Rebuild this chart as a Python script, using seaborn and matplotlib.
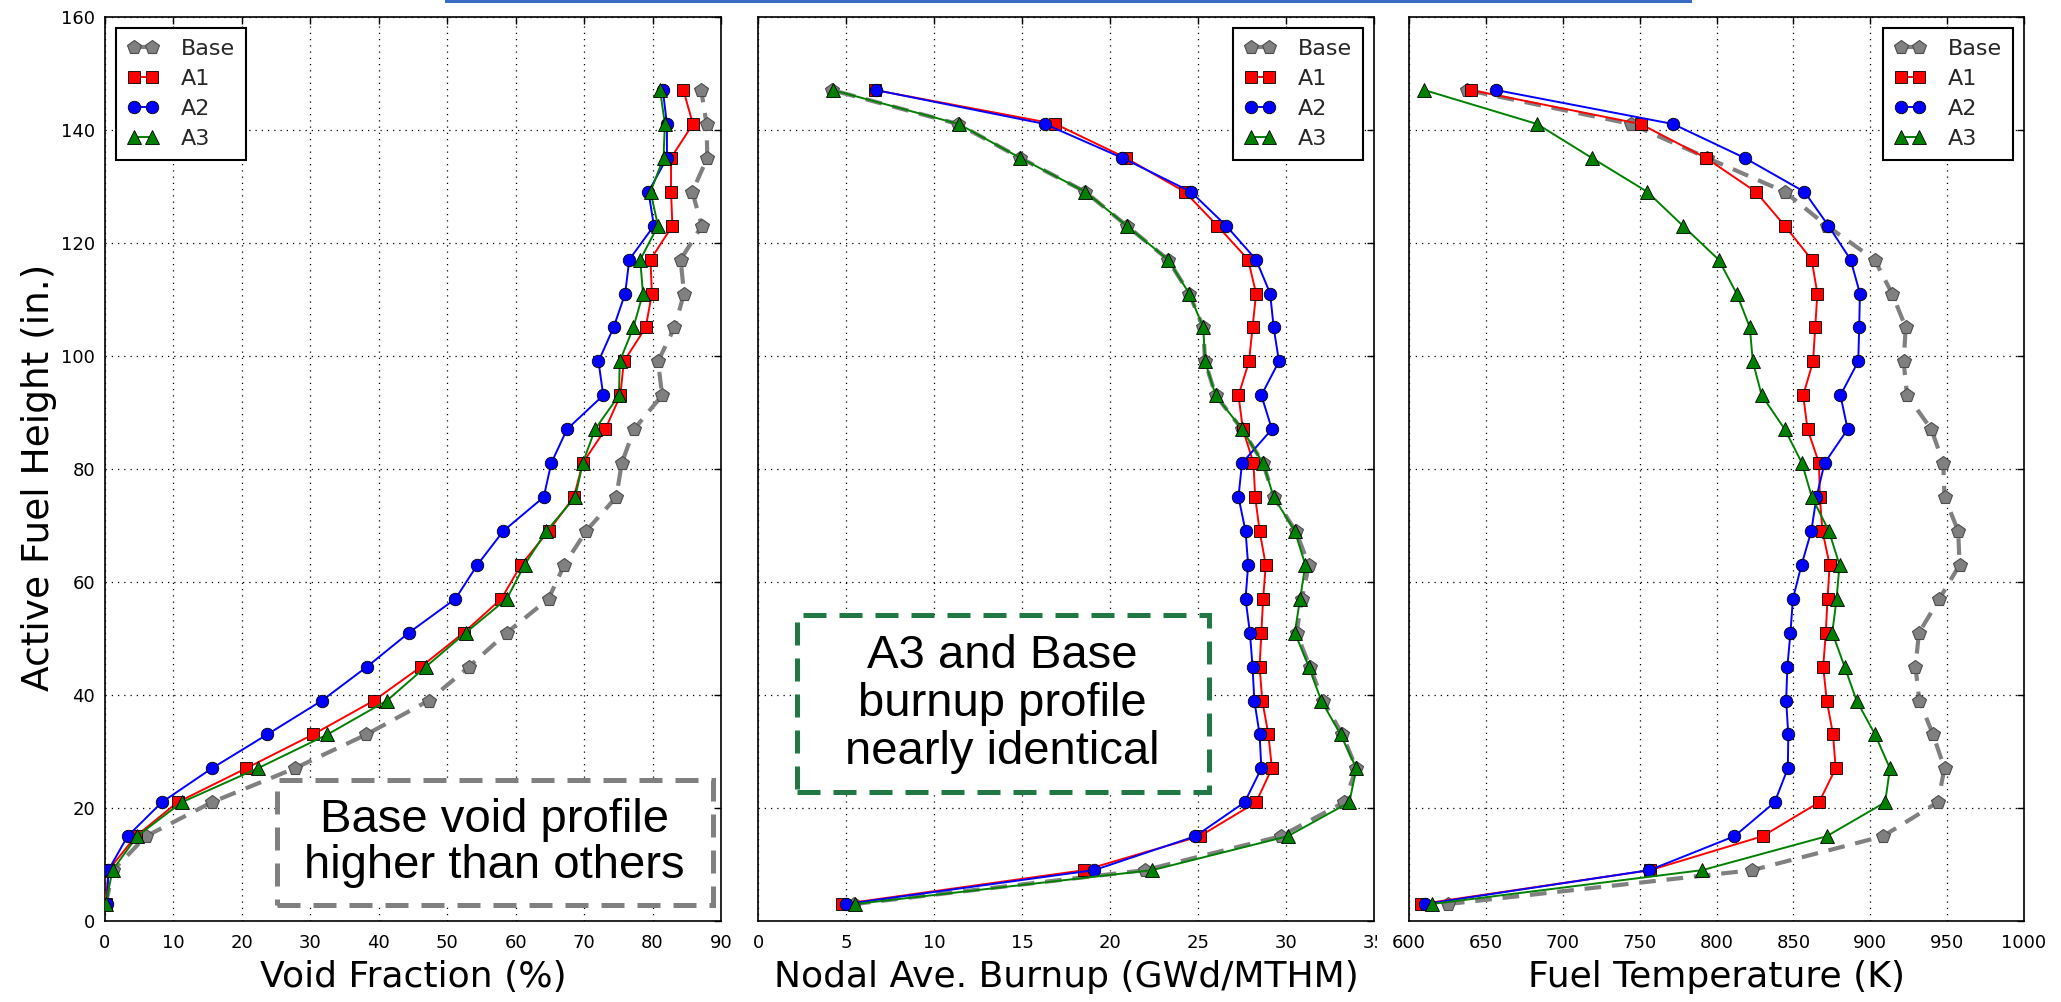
import matplotlib
matplotlib.use("Agg")
import matplotlib.pyplot as plt
import seaborn as sns
from matplotlib.patches import Rectangle
from matplotlib.transforms import Bbox, TransformedBbox

# Node mid-heights along the active fuel (in.), bottom to top
height = [3, 9, 15, 21, 27, 33, 39, 45, 51, 57, 63, 69, 75,
          81, 87, 93, 99, 105, 111, 117, 123, 129, 135, 141, 147]

cases = ["Base", "A1", "A2", "A3"]

# Void fraction (%)
void_base = [0.1, 1.2, 6.0, 15.6, 27.7, 38.2, 47.3, 53.2, 58.7, 64.8, 67.1, 70.3, 74.7,
             75.5, 77.3, 81.4, 80.8, 83.2, 84.6, 84.1, 87.2, 85.8, 88.0, 87.9, 87.1]
void_a1 = [0.1, 0.5, 4.5, 10.6, 20.6, 30.4, 39.3, 46.2, 52.4, 57.9, 60.8, 64.8, 68.5,
           69.8, 73.1, 75.3, 75.8, 79.0, 79.9, 79.7, 82.9, 82.7, 82.7, 85.9, 84.5]
void_a2 = [0.3, 0.5, 3.3, 8.3, 15.6, 23.7, 31.7, 38.3, 44.4, 51.2, 54.4, 58.2, 64.1,
           65.2, 67.5, 72.8, 72.1, 74.3, 76.0, 76.6, 80.2, 79.4, 82.1, 82.1, 81.5]
void_a3 = [0.1, 1.1, 4.7, 11.2, 22.3, 32.5, 41.2, 46.9, 52.7, 58.7, 61.3, 64.5, 68.7,
           69.8, 71.6, 75.1, 75.2, 77.2, 78.6, 78.2, 80.8, 79.7, 81.6, 81.8, 81.1]

# Nodal average burnup (GWd/MTHM)
burnup_base = [5.45, 22.0, 29.7, 33.3, 34.0, 33.2, 32.1, 31.35, 30.6, 30.9, 31.3, 30.55, 29.3,
               28.7, 27.5, 26.0, 25.4, 25.3, 24.5, 23.3, 20.95, 18.6, 14.9, 11.35, 4.2]
burnup_a1 = [4.8, 18.55, 25.1, 28.3, 29.2, 29.0, 28.65, 28.5, 28.6, 28.7, 28.85, 28.5, 28.25,
             28.15, 27.55, 27.3, 27.9, 28.1, 28.3, 27.85, 26.1, 24.25, 20.9, 16.9, 6.65]
burnup_a2 = [5.0, 19.1, 24.85, 27.65, 28.6, 28.5, 28.2, 28.1, 27.95, 27.7, 27.85, 27.7, 27.3,
             27.5, 29.2, 28.6, 29.6, 29.3, 29.1, 28.3, 26.6, 24.6, 20.7, 16.3, 6.7]
burnup_a3 = [5.5, 22.4, 30.1, 33.6, 34.0, 33.1, 32.0, 31.3, 30.5, 30.8, 31.1, 30.5, 29.3,
             28.7, 27.5, 26.0, 25.4, 25.3, 24.5, 23.3, 20.95, 18.6, 14.9, 11.4, 4.25]

# Fuel temperature (K)
temp_base = [625.3, 823.3, 908.3, 943.9, 948.3, 940.8, 931.9, 929.4, 931.7, 945.0, 958.1, 957.2, 948.3,
             947.5, 939.7, 923.9, 921.7, 923.1, 914.2, 902.8, 871.7, 844.4, 793.9, 744.4, 637.8]
temp_a1 = [607.8, 756.9, 830.0, 866.7, 877.5, 875.8, 871.7, 869.4, 871.1, 872.2, 873.6, 868.9, 867.2,
           866.7, 859.2, 856.4, 862.8, 864.2, 865.6, 861.9, 844.4, 825.6, 793.1, 750.6, 640.3]
temp_a2 = [610.6, 756.4, 811.7, 837.8, 846.4, 846.7, 845.3, 846.1, 848.1, 849.7, 855.3, 861.7, 865.0,
           870.3, 885.3, 880.6, 892.2, 892.8, 893.3, 887.2, 872.8, 857.2, 818.3, 771.7, 656.7]
temp_a3 = [614.7, 790.8, 871.7, 909.7, 912.8, 903.1, 891.1, 883.3, 875.3, 878.1, 880.0, 873.1, 862.0,
           855.6, 844.4, 829.4, 823.6, 821.7, 813.1, 801.4, 778.1, 755.0, 718.9, 683.3, 610.0]

void_ticks = [0, 10, 20, 30, 40, 50, 60, 70, 80, 90]
burnup_ticks = [0, 5, 10, 15, 20, 25, 30, 35]
temp_ticks = [600, 650, 700, 750, 800, 850, 900, 950, 1000]
height_ticks = [0, 20, 40, 60, 80, 100, 120, 140, 160]

sns.set_theme(style="white")
plt.rcParams["font.family"] = ["DejaVu Sans"]
plt.rcParams["axes.edgecolor"] = "black"
plt.rcParams["axes.linewidth"] = 1.2

styles = {
    "Base": dict(color="#808080", marker="p", markersize=10, markerfacecolor="#808080",
                 markeredgecolor="#4d4d4d", markeredgewidth=0.8,
                 linestyle=(0, (4.0, 2.6)), linewidth=3.0),
    "A1": dict(color="#ff0000", marker="s", markersize=8.5, markerfacecolor="#ff0000",
               markeredgecolor="black", markeredgewidth=0.6, linestyle="-", linewidth=1.4),
    "A2": dict(color="#0000ff", marker="o", markersize=9, markerfacecolor="#0000ff",
               markeredgecolor="black", markeredgewidth=0.6, linestyle="-", linewidth=1.4),
    "A3": dict(color="#008000", marker="^", markersize=9.5, markerfacecolor="#008000",
               markeredgecolor="black", markeredgewidth=0.6, linestyle="-", linewidth=1.4),
}

W, H = 2061, 1002
fig = plt.figure(figsize=(W / 100, H / 100), dpi=100)
fig.patch.set_facecolor("white")

top_px, bot_px = 16.6, 921.0
panels_px = [(105, 721), (758, 1374), (1409, 2024)]
axes = []
for l, r in panels_px:
    ax = fig.add_axes([l / W, 1 - bot_px / H, (r - l) / W, (bot_px - top_px) / H])
    axes.append(ax)

panel_data = [
    (void_base, void_a1, void_a2, void_a3),
    (burnup_base, burnup_a1, burnup_a2, burnup_a3),
    (temp_base, temp_a1, temp_a2, temp_a3),
]
xticks_list = [void_ticks, burnup_ticks, temp_ticks]
xlabels = ["Void Fraction (%)", "Nodal Ave. Burnup (GWd/MTHM)", "Fuel Temperature (K)"]
legend_locs = ["upper left", "upper right", "upper right"]

for i, ax in enumerate(axes):
    for name, values in zip(cases, panel_data[i]):
        sns.lineplot(x=values, y=height, ax=ax, sort=False, estimator=None,
                     label=name, zorder=3, **styles[name])
    ax.set_xlim(xticks_list[i][0], xticks_list[i][-1])
    ax.set_ylim(0, 160)
    ax.set_xticks(xticks_list[i])
    ax.set_yticks(height_ticks)
    if i > 0:
        ax.set_yticklabels([])
    ax.set_axisbelow(True)
    ax.grid(True, color="black", linestyle=(0, (1, 4)), linewidth=0.9)
    ax.tick_params(direction="in", top=True, right=True, length=5, width=1.0,
                   labelsize=13, colors="black")
    ax.tick_params(axis="x", pad=9)
    ax.tick_params(axis="y", pad=7)
    for sp in ax.spines.values():
        sp.set_visible(True)
        sp.set_color("black")
        sp.set_linewidth(1.2)
    ax.set_xlabel(xlabels[i], fontsize=26, labelpad=6, color="black")
    ax.set_ylabel("")
    leg = ax.legend(loc=legend_locs[i], numpoints=2, fontsize=16, frameon=True,
                    fancybox=False, framealpha=1, edgecolor="black",
                    handlelength=1.4, handletextpad=1.0, labelspacing=0.45,
                    borderpad=0.5, borderaxespad=0.5)
    leg.get_frame().set_linewidth(1.5)

axes[0].set_ylabel("Active Fuel Height (in.)", fontsize=27, color="black")
axes[0].yaxis.set_label_coords(-0.078, 0.49)

# Annotation boxes
axes[0].add_patch(Rectangle((25.1, 2.8), 63.7, 22.1, facecolor="white",
                            edgecolor="#808080", linewidth=3.6,
                            linestyle=(0, (4.6, 2.6)), zorder=1.5))
axes[0].text(56.95, 13.85, "Base void profile\nhigher than others",
             ha="center", va="center", fontsize=34, family="Liberation Sans",
             linespacing=1.07, color="black", zorder=4)

axes[1].add_patch(Rectangle((2.2, 22.8), 23.4, 31.3, facecolor="white",
                            edgecolor="#217845", linewidth=3.6,
                            linestyle=(0, (4.6, 2.6)), zorder=1.5))
axes[1].text(13.9, 38.45, "A3 and Base\nburnup profile\nnearly identical",
             ha="center", va="center", fontsize=34, family="Liberation Sans",
             linespacing=1.12, color="black", zorder=4)

# The last burnup tick label is cut at the panel edge
last_tick = axes[1].xaxis.get_major_ticks()[-1].label1
last_tick.set_clip_box(TransformedBbox(Bbox([[0, 0], [1377 / W, 1]]), fig.transFigure))
last_tick.set_clip_on(True)

# Thin blue band along the top edge
fig.add_artist(Rectangle((445 / W, 1 - 3 / H), (1692 - 445) / W, 3 / H,
                         transform=fig.transFigure, facecolor="#3a6bc3",
                         edgecolor="none"))

fig.savefig("out.png", dpi=100, facecolor="white")
